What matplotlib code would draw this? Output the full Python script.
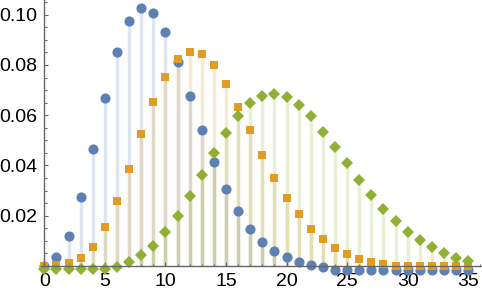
import matplotlib.pyplot as plt
import numpy as np

plt.rcParams['font.family'] = ['Liberation Sans', 'DejaVu Sans']

n = np.arange(0, 36)

# values
blue = [0.0, 0.0036, 0.0121, 0.0273, 0.0464, 0.0667, 0.0850, 0.0975, 0.1025, 0.1006,
        0.0930, 0.0811, 0.0676, 0.0541, 0.0413, 0.0305, 0.0220, 0.0147, 0.0095, 0.0060,
        0.0036, 0.0016, 0.0004, -0.0004, -0.0016, -0.0018, -0.0018, -0.0018, -0.0018, -0.0018,
        -0.0018, -0.0018, -0.0018, -0.0018, -0.0018, -0.0018]
orange = [0.0, 0.0004, 0.0010, 0.0031, 0.0077, 0.0154, 0.0260, 0.0387, 0.0524, 0.0651,
          0.0753, 0.0825, 0.0853, 0.0845, 0.0799, 0.0725, 0.0634, 0.0540, 0.0441, 0.0351,
          0.0272, 0.0206, 0.0149, 0.0106, 0.0073, 0.0049, 0.0029, 0.0016, 0.0008, 0.0001,
          0.0, 0.0, 0.0, 0.0, 0.0, 0.0]
green = [-0.0013, -0.0013, -0.0013, -0.0013, -0.0013, -0.0013, -0.0003, 0.0017, 0.0044, 0.0078,
         0.0136, 0.0199, 0.0279, 0.0362, 0.0448, 0.0530, 0.0597, 0.0647, 0.0676, 0.0683,
         0.0671, 0.0641, 0.0597, 0.0534, 0.0472, 0.0411, 0.0342, 0.0283, 0.0226, 0.0179,
         0.0134, 0.0103, 0.0077, 0.0051, 0.0031, 0.0020]

c_blue = '#5E81B5'
c_orange = '#E19C24'
c_green = '#8FB032'

fig = plt.figure(figsize=(4.82, 2.99), dpi=100)
ax = fig.add_axes([0.0743, 0.0736, 0.9257, 0.9264])

for vals, col in [(blue, c_blue), (orange, c_orange), (green, c_green)]:
    ax.vlines(n, 0, vals, colors=col, alpha=0.2, lw=2.5, zorder=1)

ax.plot(n, blue, 'o', color=c_blue, ms=7.3, mew=0, zorder=3)
ax.plot(n, orange, 's', color=c_orange, ms=5.4, mew=0, zorder=4)
ax.plot(n, green, 'D', color=c_green, ms=6.2, mew=0, zorder=5)

ax.set_xlim(-0.7, 36.14)
ax.set_ylim(-0.0044, 0.10585)

ax.spines['top'].set_visible(False)
ax.spines['right'].set_visible(False)
ax.spines['left'].set_position(('data', 0))
ax.spines['bottom'].set_position(('data', 0))
ax.spines['left'].set_bounds(0, 0.10585)
ax.spines['bottom'].set_bounds(-0.3, 36.14)
for s in ['left', 'bottom']:
    ax.spines[s].set_color('#666666')
    ax.spines[s].set_linewidth(1.0)
    ax.spines[s].set_zorder(6)

ax.set_xticks(np.arange(0, 36, 5))
ax.set_xticks(np.arange(0, 37, 1), minor=True)
ax.set_yticks([0.02, 0.04, 0.06, 0.08, 0.10])
ax.set_yticklabels(['0.02', '0.04', '0.06', '0.08', '0.10'])
ax.set_yticks(np.arange(0.005, 0.106, 0.005), minor=True)

ax.tick_params(which='both', direction='in', color='#666666', labelsize=14, labelcolor='black')
ax.tick_params(which='major', length=3, width=0.8)
ax.tick_params(which='minor', length=1.8, width=0.7)
ax.tick_params(axis='x', pad=5)
ax.tick_params(axis='y', pad=5)

fig.savefig('out.png', dpi=100)
